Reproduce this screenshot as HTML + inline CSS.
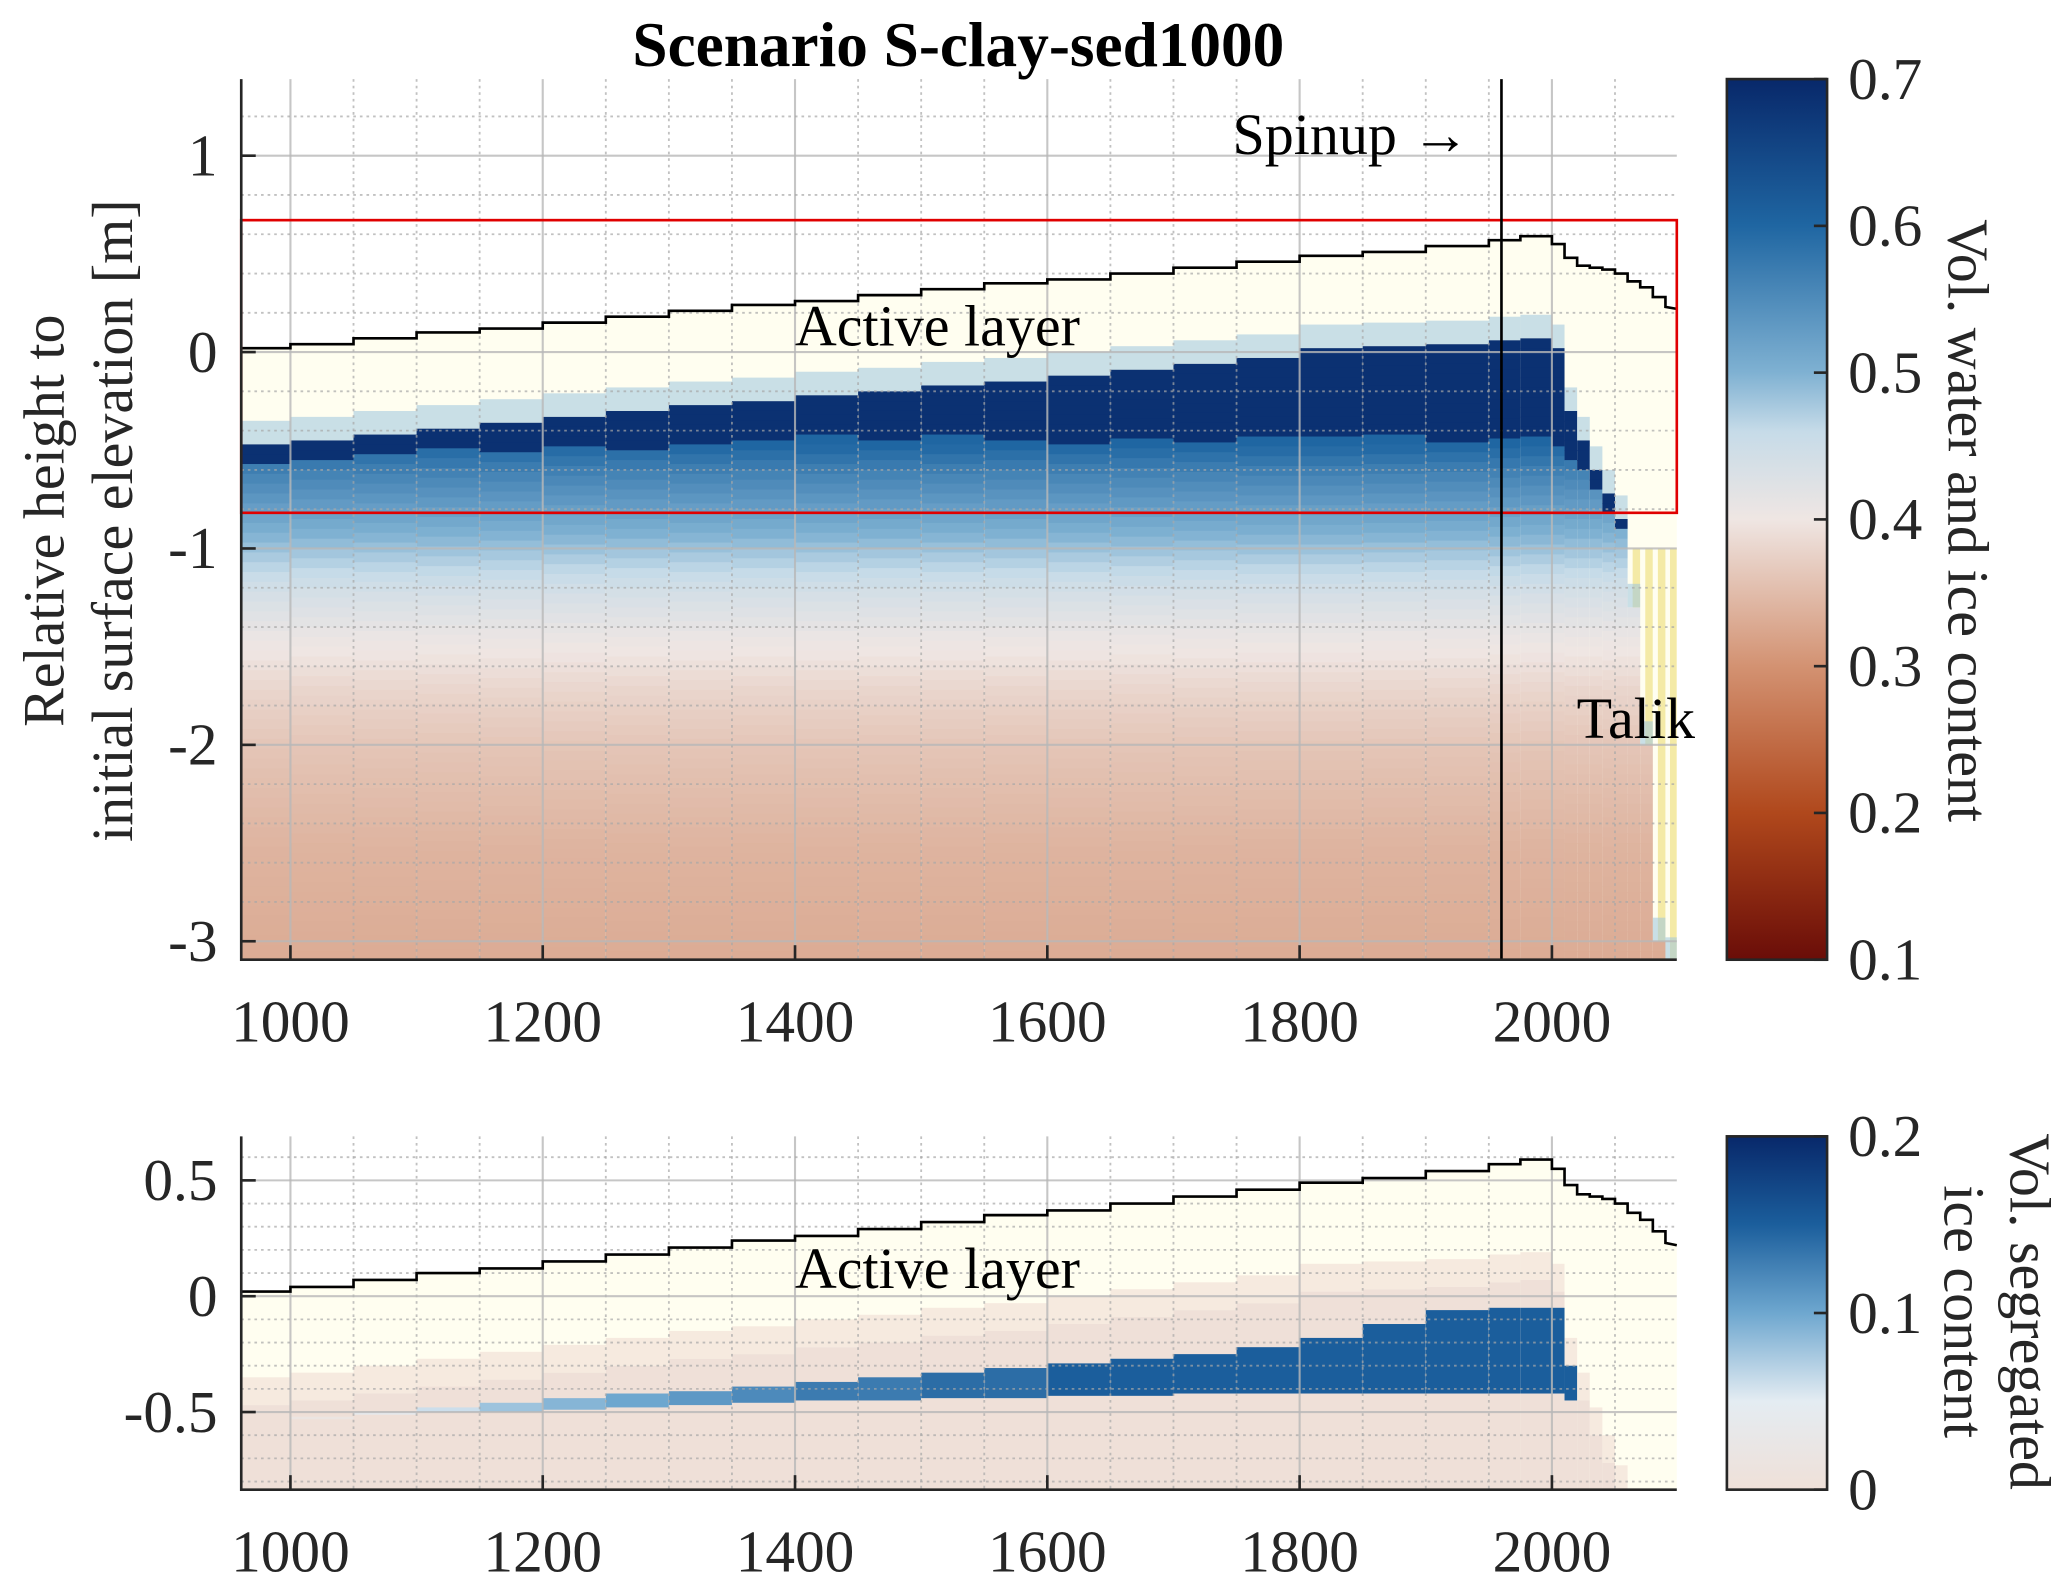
<!DOCTYPE html>
<html><head><meta charset="utf-8"><style>
html,body{margin:0;padding:0;background:#fff;overflow:hidden}
svg{display:block;font-family:"Liberation Serif",serif}
</style></head><body>
<svg id="chart" width="2067" height="1588" viewBox="0 0 1568 1204.6" preserveAspectRatio="none" xmlns="http://www.w3.org/2000/svg">
<defs>
<linearGradient id="cb1" x1="0" y1="1" x2="0" y2="0">
<stop offset="0" stop-color="#6a0d08"/><stop offset="0.1667" stop-color="#b0481c"/><stop offset="0.3333" stop-color="#d39272"/><stop offset="0.5" stop-color="#efe6e3"/><stop offset="0.6" stop-color="#c6dbe8"/><stop offset="0.6667" stop-color="#7fb1d2"/><stop offset="0.8333" stop-color="#1f66a2"/><stop offset="1" stop-color="#08286a"/>
</linearGradient>
<linearGradient id="cb2" x1="0" y1="1" x2="0" y2="0">
<stop offset="0" stop-color="#efe0d8"/><stop offset="0.25" stop-color="#e4ecf2"/><stop offset="0.5" stop-color="#6ea7cf"/><stop offset="0.75" stop-color="#1b5e9c"/><stop offset="1" stop-color="#08286a"/>
</linearGradient>
<clipPath id="clipT"><rect x="183" y="60" width="1089" height="668"/></clipPath>
<clipPath id="clipB"><rect x="183" y="862" width="1089" height="268"/></clipPath>
</defs>
<g id="top-heat" clip-path="url(#clipT)"></g>
<g id="bot-heat" clip-path="url(#clipB)"></g>
<g id="grids"></g>
<g id="over"></g>
</svg>
<script>
// ---- data ----
const colYears = [961,1000,1050,1100,1150,1200,1250,1300,1350,1400,1450,1500,1550,1600,1650,1700,1750,1800,1850,1900,1950,1975,2000,2010,2020,2030,2040,2050,2060,2070,2080,2090];
const endYear = 2099;
const surface = [0.02,0.04,0.07,0.10,0.12,0.15,0.18,0.21,0.24,0.26,0.29,0.32,0.35,0.37,0.40,0.43,0.46,0.49,0.51,0.54,0.57,0.59,0.55,0.48,0.44,0.43,0.42,0.40,0.36,0.33,0.28,0.23];
const surfaceEnd = 0.22;
const frozenTop = [-0.47,-0.45,-0.42,-0.39,-0.36,-0.33,-0.30,-0.27,-0.25,-0.22,-0.20,-0.17,-0.15,-0.12,-0.09,-0.06,-0.03,0.02,0.03,0.04,0.06,0.07,0.02,-0.3,-0.45,-0.6,-0.72,-0.85,-1.3,-2.0,-3.0,-3.1];
const iceBase = [-0.55,-0.53,-0.51,-0.49,-0.47,-0.46,-0.45,-0.44,-0.43,-0.42,-0.42,-0.42,-0.42,-0.42,-0.42,-0.42,-0.42,-0.42,-0.42,-0.42,-0.42,-0.42,-0.45,-0.5,-0.6,-0.7,-0.8,-0.9,-1.3,-2.0,-3.0,-3.1];
const profileDepth = [-0.45,-0.6,-0.8,-1.0,-1.2,-1.4,-1.7,-2.0,-2.5,-3.1];
const profileValue = [0.6,0.56,0.52,0.48,0.44,0.41,0.38,0.36,0.34,0.33];
const segTop = [-0.52,-0.52,-0.50,-0.48,-0.46,-0.44,-0.42,-0.41,-0.39,-0.37,-0.35,-0.33,-0.31,-0.29,-0.27,-0.25,-0.22,-0.18,-0.12,-0.06,-0.05,-0.05,-0.05,-0.3,-0.6,-0.8,-0.8,-0.8,-0.8,-0.8,-0.8,-0.8];
const segBot = [-0.52,-0.52,-0.51,-0.5,-0.5,-0.49,-0.48,-0.47,-0.46,-0.45,-0.45,-0.44,-0.44,-0.43,-0.43,-0.42,-0.42,-0.42,-0.42,-0.42,-0.42,-0.42,-0.42,-0.45,-0.6,-0.8,-0.8,-0.8,-0.8,-0.8,-0.8,-0.8];
const segValue = [0,0.02,0.04,0.06,0.08,0.09,0.1,0.11,0.12,0.13,0.13,0.14,0.14,0.15,0.15,0.15,0.15,0.15,0.15,0.15,0.15,0.15,0.15,0.15,0,0,0,0,0,0,0,0];
const xTicks = [1000,1200,1400,1600,1800,2000];
const yTicksTop = [1,0,-1,-2,-3];
const yTicksBot = [0.5,0,-0.5];
const cbTicksTop = [0.7,0.6,0.5,0.4,0.3,0.2,0.1];
const cbTicksBot = [0.2,0.1,0];

// ---- axes ----
const X0=183,X1=1272, YR0=961, YR1=2099;
const sx = y => X0 + (y-YR0)/(YR1-YR0)*(X1-X0);
const T={top:60,bot:728,zmax:1.39,zmin:-3.094};
const B={top:862,bot:1130,zmax:0.69,zmin:-0.835};
const syT = z => T.top + (T.zmax-z)/(T.zmax-T.zmin)*(T.bot-T.top);
const syB = z => B.top + (B.zmax-z)/(B.zmax-B.zmin)*(B.bot-B.top);
const NS='http://www.w3.org/2000/svg';
function mk(tag, attrs, parent){const e=document.createElementNS(NS,tag);for(const k in attrs)e.setAttribute(k,attrs[k]);parent.appendChild(e);return e;}
function lerpCol(stops, v){
  if(v<=stops[0][0])return 'rgb('+stops[0][1].join(',')+')';
  for(let i=1;i<stops.length;i++){if(v<=stops[i][0]){const t=(v-stops[i-1][0])/(stops[i][0]-stops[i-1][0]);const a=stops[i-1][1],b=stops[i][1];return 'rgb('+a.map((c,j)=>Math.round(c+(b[j]-c)*t)).join(',')+')';}}
  const l=stops[stops.length-1][1];return 'rgb('+l.join(',')+')';
}
const cmap1=[[0.1,[106,13,8]],[0.2,[176,72,28]],[0.3,[211,146,114]],[0.4,[239,230,227]],[0.46,[198,219,232]],[0.5,[127,177,210]],[0.6,[31,102,162]],[0.7,[8,40,106]]];
const cmap2=[[0,[239,224,216]],[0.05,[228,236,242]],[0.1,[110,167,207]],[0.15,[27,94,156]],[0.2,[8,40,106]]];
function prof(z){
  if(z>=profileDepth[0])return profileValue[0];
  for(let i=1;i<profileDepth.length;i++){if(z>=profileDepth[i]){const t=(z-profileDepth[i-1])/(profileDepth[i]-profileDepth[i-1]);return profileValue[i-1]+t*(profileValue[i]-profileValue[i-1]);}}
  return profileValue[profileValue.length-1];
}
const UNFROZEN='#fffef0', TALIK='#f4eaa6';
const th=document.getElementById('top-heat'), bh=document.getElementById('bot-heat');
const dz=0.05;
for(let c=0;c<colYears.length;c++){
  const xa=sx(colYears[c]), xb=sx(c+1<colYears.length?colYears[c+1]:endYear);
  let r=mk('rect',{x:xa,y:syT(surface[c]),width:xb-xa+0.5,height:syT(T.zmin)-syT(surface[c]),fill:UNFROZEN},th);
  
  
  if(c>=28){
    const tr=mk('rect',{x:xa+(xb-xa)*0.4,y:syT(-1.0),width:(xb-xa)*0.6,height:syT(T.zmin)-syT(-1.0),fill:TALIK},th);
    
    
  }
  const spike=mk('rect',{x:xa,y:syT(frozenTop[c]+0.12),width:xb-xa+0.5,height:syT(frozenTop[c])-syT(frozenTop[c]+0.12),fill:'#9cc4de',opacity:0.55},th);
  
  
  for(let z=frozenTop[c]; z>T.zmin; z-=dz){
    const v = z>iceBase[c] ? 0.685 : prof(z);
    const cell=mk('rect',{x:xa,y:syT(z),width:xb-xa+0.5,height:syT(z-dz)-syT(z)+0.6,fill:lerpCol(cmap1,v)},th);
    
    
  }
  r=mk('rect',{x:xa,y:syB(surface[c]),width:xb-xa+0.5,height:syB(B.zmin)-syB(surface[c]),fill:UNFROZEN},bh);
  
  
  const pt=Math.min(frozenTop[c]+0.12,surface[c]);
  const pk=mk('rect',{x:xa,y:syB(pt),width:xb-xa+0.5,height:Math.max(0,syB(frozenTop[c])-syB(pt)),fill:'#f0dcd4',opacity:0.6},bh);
  
  
  const pk2=mk('rect',{x:xa,y:syB(frozenTop[c]),width:xb-xa+0.5,height:Math.max(0,syB(B.zmin)-syB(frozenTop[c])),fill:'#efe0d8'},bh);
  
  
  if(segValue[c]>0){
    const sb=mk('rect',{x:xa,y:syB(segTop[c]),width:xb-xa+0.5,height:Math.max(2,syB(segBot[c])-syB(segTop[c])),fill:lerpCol(cmap2,segValue[c])},bh);
    
    
  }
}
const g=document.getElementById('grids');
function grid(P,sy,ticksY,minorStep){
  for(let y=1000;y<=2099;y+=50){
    const major=xTicks.includes(y);
    const l=mk('line',{x1:sx(y),x2:sx(y),y1:P.top,y2:P.bot,stroke:major?'#b8b8b8':'#a8a8a8','stroke-width':major?1.6:1.4,'stroke-dasharray':major?'none':'2 3',opacity:major?0.8:0.7},g);
    
    
  }
  for(let z=Math.ceil(P.zmin/minorStep)*minorStep; z<=P.zmax; z+=minorStep){
    const zz=Math.round(z*1000)/1000;
    const major=ticksY.some(t=>Math.abs(t-zz)<1e-6);
    const l=mk('line',{x1:X0,x2:X1,y1:sy(zz),y2:sy(zz),stroke:major?'#b8b8b8':'#a8a8a8','stroke-width':major?1.6:1.4,'stroke-dasharray':major?'none':'2 3',opacity:major?0.8:0.7},g);
    
    
  }
}
grid(T,syT,yTicksTop,0.2);
grid(B,syB,yTicksBot,0.1);
const o=document.getElementById('over');
function surfPath(sy){
  let d='M'+sx(colYears[0])+','+sy(surface[0]);
  for(let i=1;i<colYears.length;i++){d+=' L'+sx(colYears[i])+','+sy(surface[i-1])+' L'+sx(colYears[i])+','+sy(surface[i]);}
  d+=' L'+sx(endYear)+','+sy(surfaceEnd);
  return d;
}
let p=mk('path',{d:surfPath(syT),fill:'none',stroke:'#000','stroke-width':2},o);


p=mk('path',{d:surfPath(syB),fill:'none',stroke:'#000','stroke-width':2},o);


let rb=mk('rect',{x:X0,y:167,width:X1-X0,height:222,fill:'none',stroke:'#e00000','stroke-width':2},o);


let sp=mk('line',{x1:sx(1960),x2:sx(1960),y1:T.top,y2:T.bot,stroke:'#000','stroke-width':2},o);


function txt(s,attrs,name){const t=mk('text',attrs,o);t.textContent=s;return t;}
function axes(P,sy,ticksY,nm){
  const a=mk('path',{d:`M${X0},${P.top} L${X0},${P.bot} L${X1},${P.bot}`,fill:'none',stroke:'#262626','stroke-width':2},o);
  
  
  xTicks.forEach(t=>{
    const l=mk('line',{x1:sx(t),x2:sx(t),y1:P.bot,y2:P.bot-11,stroke:'#262626','stroke-width':2},o);
    
    
    txt(String(t),{x:sx(t),y:P.bot+62,'font-size':45,'text-anchor':'middle',fill:'#262626'},'x-tick-label');
  });
  ticksY.forEach(t=>{
    const l=mk('line',{x1:X0,x2:X0+11,y1:sy(t),y2:sy(t),stroke:'#262626','stroke-width':2},o);
    
    
    txt(String(t),{x:X0-18,y:sy(t)+15,'font-size':45,'text-anchor':'end',fill:'#262626'},'y-tick-label');
  });
}
axes(T,syT,yTicksTop,'top');
axes(B,syB,yTicksBot,'bottom');
function cbar(top,bot,grad,ticks,vmin,vmax,nm){
  const r=mk('rect',{x:1310,y:top,width:76,height:bot-top,fill:'url(#'+grad+')',stroke:'#262626','stroke-width':2},o);
  
  
  ticks.forEach(t=>{
    const y=bot-(t-vmin)/(vmax-vmin)*(bot-top);
    const l=mk('line',{x1:1376,x2:1386,y1:y,y2:y,stroke:'#262626','stroke-width':2},o);
    
    
    txt(String(t),{x:1402,y:y+15,'font-size':45,fill:'#262626'},'colorbar-tick-label');
  });
}
cbar(T.top,T.bot,'cb1',cbTicksTop,0.1,0.7,'colorbar-top');
cbar(B.top,B.bot,'cb2',cbTicksBot,0,0.2,'colorbar-bottom');
txt('Scenario S-clay-sed1000',{x:727,y:50,'font-size':48,'font-weight':'bold','text-anchor':'middle',fill:'#000'},'chart-title');
txt('Spinup \u2192',{x:935,y:117,'font-size':44,fill:'#000'},'spinup-label');
txt('Active layer',{x:603,y:262,'font-size':44,fill:'#000'},'active-layer-label-top');
txt('Active layer',{x:603,y:977,'font-size':44,fill:'#000'},'active-layer-label-bottom');
txt('Talik',{x:1196,y:560,'font-size':44,fill:'#000'},'talik-label');
txt('Relative height to',{x:0,y:0,'font-size':44,'text-anchor':'middle',fill:'#262626',transform:'translate(48,395) rotate(-90)'},'y-axis-title-line1');
txt('initial surface elevation [m]',{x:0,y:0,'font-size':44,'text-anchor':'middle',fill:'#262626',transform:'translate(100,395) rotate(-90)'},'y-axis-title-line2');
txt('Vol. water and ice content',{x:0,y:0,'font-size':44,'text-anchor':'middle',fill:'#262626',transform:'translate(1478,395) rotate(90)'},'colorbar-top-title');
txt('Vol. segregated',{x:0,y:0,'font-size':44,'text-anchor':'middle',fill:'#262626',transform:'translate(1525,995) rotate(90)'},'colorbar-bottom-title-line1');
txt('ice content',{x:0,y:0,'font-size':44,'text-anchor':'middle',fill:'#262626',transform:'translate(1475,995) rotate(90)'},'colorbar-bottom-title-line2');
</script>
</body></html>
